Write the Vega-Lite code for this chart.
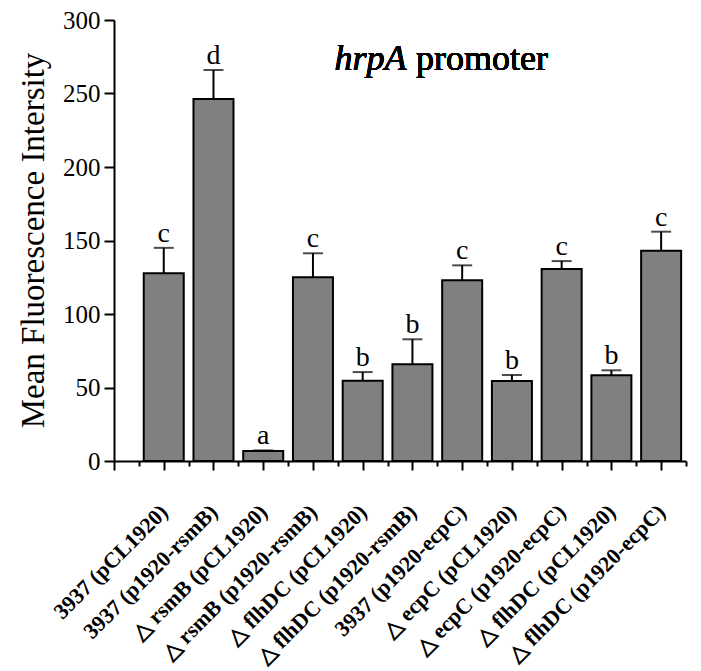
{
  "$schema": "https://vega.github.io/schema/vega-lite/v6.json",
  "width": 572,
  "height": 441,
  "autosize": {"type": "none"},
  "padding": {"left": 114, "top": 20, "right": 15, "bottom": 210},
  "background": "white",
  "config": {
    "view": {"stroke": null},
    "font": "Liberation Serif",
    "scale": {"continuousPadding": 0},
    "axis": {"grid": false, "domainColor": "black", "domainWidth": 2, "tickColor": "black", "tickWidth": 2, "labelColor": "black", "titleColor": "black", "labelFont": "Liberation Serif", "titleFont": "Liberation Serif"}
  },
  "data": {
    "values": [
      {"i": 1, "mean": 127.7, "upper": 145, "letter": "c"},
      {"i": 2, "mean": 246.3, "upper": 266, "letter": "d"},
      {"i": 3, "mean": 6.8, "upper": 7.2, "letter": "a"},
      {"i": 4, "mean": 125, "upper": 141.3, "letter": "c"},
      {"i": 5, "mean": 54.6, "upper": 60.5, "letter": "b"},
      {"i": 6, "mean": 65.8, "upper": 82.8, "letter": "b"},
      {"i": 7, "mean": 122.9, "upper": 133.1, "letter": "c"},
      {"i": 8, "mean": 54.4, "upper": 58.5, "letter": "b"},
      {"i": 9, "mean": 130.6, "upper": 136, "letter": "c"},
      {"i": 10, "mean": 58.3, "upper": 61.7, "letter": "b"},
      {"i": 11, "mean": 143, "upper": 156, "letter": "c"}
    ]
  },
  "encoding": {
    "x": {
      "field": "i", "type": "quantitative",
      "scale": {"domain": [0, 11.5], "nice": false, "zero": false, "padding": 0},
      "axis": {
        "title": null,
        "values": [0, 0.5, 1, 1.5, 2, 2.5, 3, 3.5, 4, 4.5, 5, 5.5, 6, 6.5, 7, 7.5, 8, 8.5, 9, 9.5, 10, 10.5, 11, 11.5],
        "tickSize": {"condition": {"test": "datum.value % 1 === 0", "value": 9}, "value": 5},
        "labelExpr": "datum.value % 1 === 0 ? ['', '3937 (pCL1920)', '3937 (p1920-rsmB)', '△ rsmB (pCL1920)', '△ rsmB (p1920-rsmB)', '△ flhDC (pCL1920)', '△ flhDC (p1920-rsmB)', '3937 (p1920-ecpC)', '△ ecpC (pCL1920)', '△ ecpC (p1920-ecpC)', '△ flhDC (pCL1920)', '△ flhDC (p1920-ecpC)'][datum.value] : ''",
        "labelAngle": -45,
        "labelAlign": "right",
        "labelBaseline": "middle",
        "labelFontSize": 22,
        "labelFontWeight": "bold",
        "labelPadding": 38,
        "labelLimit": 0,
        "labelOverlap": false,
        "labelFlush": false,
        "labelBound": false
      }
    }
  },
  "layer": [
    {
      "mark": {"type": "bar", "width": 40, "fill": "#808080", "stroke": "black", "strokeWidth": 2},
      "encoding": {
        "y": {
          "field": "mean", "type": "quantitative",
          "scale": {"domain": [0, 300], "nice": false, "padding": 0},
          "axis": {
            "title": "Mean Fluorescence Intersity",
            "values": [0, 25, 50, 75, 100, 125, 150, 175, 200, 225, 250, 275, 300],
            "labelExpr": "datum.value % 50 === 0 ? datum.label : ''",
            "tickSize": {"condition": {"test": "datum.value % 50 === 0", "value": 10}, "value": 6},
            "labelFontSize": 25,
            "labelPadding": 4,
            "labelFlush": false,
            "labelOverlap": false,
            "titleFontSize": 33,
            "titleFontWeight": "normal",
            "titleAngle": -90,
            "titleX": -81,
            "titleY": 220,
            "titleAlign": "center",
            "titleBaseline": "middle"
          }
        }
      }
    },
    {
      "mark": {"type": "rule", "strokeWidth": 2, "color": "black"},
      "encoding": {"y": {"field": "mean", "type": "quantitative"}, "y2": {"field": "upper"}}
    },
    {
      "mark": {"type": "tick", "orient": "horizontal", "size": 20, "thickness": 2, "color": "black"},
      "encoding": {"y": {"field": "upper", "type": "quantitative"}}
    },
    {
      "mark": {"type": "text", "fontSize": 28, "baseline": "alphabetic", "dy": -6, "color": "black"},
      "encoding": {"y": {"field": "upper", "type": "quantitative"}, "text": {"field": "letter"}}
    },
    {
      "mark": {"type": "text", "fontSize": 36, "fontStyle": "italic", "align": "right", "baseline": "alphabetic", "color": "black"},
      "encoding": {"x": {"datum": 5.88}, "y": {"datum": 266}, "text": {"value": "hrpA"}}
    },
    {
      "mark": {"type": "text", "fontSize": 36, "align": "left", "baseline": "alphabetic", "color": "black"},
      "encoding": {"x": {"datum": 6.07}, "y": {"datum": 266}, "text": {"value": "promoter"}}
    }
  ]
}
